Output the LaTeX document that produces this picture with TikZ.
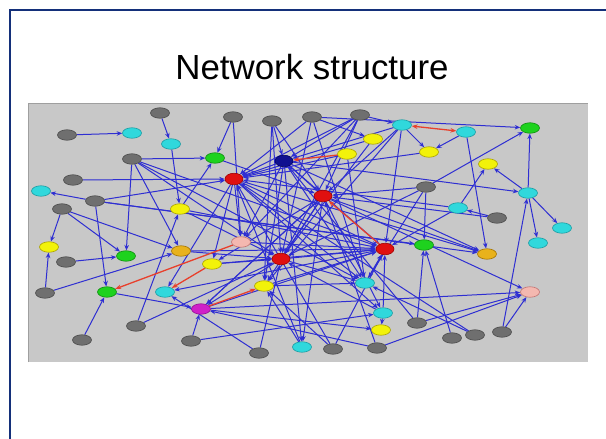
\documentclass[tikz,border=0pt]{standalone}
\usepackage{fontspec}
\setmainfont{Liberation Sans}
\usetikzlibrary{shapes.geometric,arrows.meta}
\definecolor{framecol}{HTML}{14307A}
\definecolor{panelcol}{HTML}{C8C8C8}
\definecolor{edgeblue}{HTML}{2E2ED2}
\definecolor{edgered}{HTML}{E8402C}
\definecolor{gfill}{HTML}{6F6F6F}\definecolor{gdraw}{HTML}{4A4A4A}
\definecolor{cfill}{HTML}{30D8DC}\definecolor{cdraw}{HTML}{1A9AA0}
\definecolor{yfill}{HTML}{F2F20A}\definecolor{ydraw}{HTML}{A8A000}
\definecolor{ofill}{HTML}{E8B21C}\definecolor{odraw}{HTML}{A07000}
\definecolor{grfill}{HTML}{1ED21E}\definecolor{grdraw}{HTML}{108A10}
\definecolor{rfill}{HTML}{E01010}\definecolor{rdraw}{HTML}{A00000}
\definecolor{bfill}{HTML}{101090}\definecolor{bdraw}{HTML}{000060}
\definecolor{mfill}{HTML}{D020C8}\definecolor{mdraw}{HTML}{901090}
\definecolor{pfill}{HTML}{F4B8B0}\definecolor{pdraw}{HTML}{C07070}
\pgfdeclarelayer{bglayer}
\pgfdeclarelayer{edgelayer}
\pgfsetlayers{bglayer,edgelayer,main}
\tikzset{
  nd/.style={ellipse,minimum width=19bp,minimum height=10.5bp,inner sep=0pt,line width=0.6bp},
  ng/.style={nd,fill=gfill,draw=gdraw},
  nc/.style={nd,fill=cfill,draw=cdraw},
  ny/.style={nd,fill=yfill,draw=ydraw},
  no/.style={nd,fill=ofill,draw=odraw},
  ngr/.style={nd,fill=grfill,draw=grdraw},
  nr/.style={nd,fill=rfill,draw=rdraw,minimum width=18bp,minimum height=11.5bp},
  nb/.style={nd,fill=bfill,draw=bdraw,minimum width=18bp,minimum height=11.5bp},
  nm/.style={nd,fill=mfill,draw=mdraw},
  np/.style={nd,fill=pfill,draw=pdraw},
  edgeb/.style={draw=edgeblue,line width=1bp,-{Stealth[length=5.5bp,width=4.5bp]}},
  edger/.style={draw=edgered,line width=1.3bp,-{Stealth[length=6bp,width=4.5bp]}},
  edgerr/.style={draw=edgered,line width=1.3bp,{Stealth[length=6bp,width=4.5bp]}-{Stealth[length=6bp,width=4.5bp]}},
  framestyle/.style={draw=framecol,line width=2bp},
}
\begin{document}
\begin{tikzpicture}[x=1bp,y=-1bp]
\useasboundingbox (0,0) rectangle (606,439);
\begin{pgfonlayer}{bglayer}
\fill[white] (0,0) rectangle (606,439);
\fill[panelcol] (28,104) rectangle (588,362);
\draw[gray!75,line width=1bp] (28,362) -- (28,104) -- (588,104);
\end{pgfonlayer}
\draw[framestyle] (10,439) -- (10,10) -- (606,10);
\node[font=\fontsize{35}{42}\selectfont,anchor=base] (title) at (312,80) {Network structure};
% gray nodes
\node[ng] (gA) at (67,135) {};
\node[ng] (gB) at (160,113) {};
\node[ng] (gC) at (132,159) {};
\node[ng] (gD) at (73,180) {};
\node[ng] (gE) at (95,201) {};
\node[ng] (gF) at (62,209) {};
\node[ng] (gG) at (66,262) {};
\node[ng] (gH) at (45,293) {};
\node[ng] (gI) at (82,340) {};
\node[ng] (gJ) at (136,326) {};
\node[ng] (gK) at (191,341) {};
\node[ng] (gL) at (233,117) {};
\node[ng] (gM) at (272,121) {};
\node[ng] (gN) at (312,117) {};
\node[ng] (gO) at (360,115) {};
\node[ng] (gP) at (426,187) {};
\node[ng] (gQ) at (497,218) {};
\node[ng] (gR) at (259,353) {};
\node[ng] (gS) at (333,349) {};
\node[ng] (gT) at (377,348) {};
\node[ng] (gU) at (417,323) {};
\node[ng] (gV) at (452,338) {};
\node[ng] (gW) at (475,335) {};
\node[ng] (gX) at (502,332) {};
% cyan nodes
\node[nc] (cA) at (132,133) {};
\node[nc] (cB) at (171,144) {};
\node[nc] (cC) at (41,191) {};
\node[nc] (cD) at (165,292) {};
\node[nc] (cE) at (402,125) {};
\node[nc] (cF) at (466,132) {};
\node[nc] (cG) at (528,193) {};
\node[nc] (cH) at (458,208) {};
\node[nc] (cI) at (562,228) {};
\node[nc] (cJ) at (538,243) {};
\node[nc] (cK) at (365,283) {};
\node[nc] (cL) at (383,313) {};
\node[nc] (cM) at (302,347) {};
% yellow nodes
\node[ny] (yA) at (180,209) {};
\node[ny] (yB) at (49,247) {};
\node[ny] (yC) at (212,264) {};
\node[ny] (yD) at (264,286) {};
\node[ny] (yE) at (373,139) {};
\node[ny] (yF) at (347,154) {};
\node[ny] (yG) at (429,152) {};
\node[ny] (yH) at (488,164) {};
\node[ny] (yI) at (381,330) {};
% orange
\node[no] (oA) at (181,251) {};
\node[no] (oB) at (487,254) {};
% green
\node[ngr] (grA) at (215,158) {};
\node[ngr] (grB) at (126,256) {};
\node[ngr] (grC) at (107,292) {};
\node[ngr] (grD) at (530,128) {};
\node[ngr] (grE) at (424,245) {};
% red, blue, magenta, pink
\node[nr] (rA) at (234,179) {};
\node[nr] (rB) at (323,196) {};
\node[nr] (rC) at (385,249) {};
\node[nr] (rD) at (281,259) {};
\node[nb] (bA) at (284,161) {};
\node[nm] (mA) at (201,309) {};
\node[np] (pA) at (241,242) {};
\node[np] (pB) at (530,292) {};
\begin{pgfonlayer}{edgelayer}
\foreach \s/\t in {gA/cA,gB/cB,cB/yA,gC/grA,gC/grB,gC/oA,gC/rC,gC/cK,gD/rA,gE/cC,
  gE/grC,gE/grE,gE/oB,gF/yB,gF/grB,gF/oA,gG/grB,gH/yB,gH/oA,gI/grC,grC/mA,gJ/yA,
  gK/cL,gL/grA,gM/bA,gM/rB,gN/yE,gN/rA,gN/rD,gN/grD,gO/bA,gO/rA,gO/rD,gO/cE,
  cE/yG,cF/yG,gP/grD,gP/rB,gP/grE,cG/grD,cG/yH,cG/cI,cG/cJ,cH/yH,gQ/cH,gX/cG,
  gX/pB,gU/grE,gV/grE,gU/pB,gU/bA,gW/cK,gT/pB,mA/pB,rB/pB,rA/oB,bA/oB,rB/oB,
  cF/oB,bA/cG,cE/rB,cE/rC,yE/rA,rA/pA,rA/rC,rA/cD,rA/yC,bA/rA,bA/rB,bA/rC,bA/yD,
  bA/cK,rB/rD,rB/cM,rB/yC,rB/mA,rD/rC,rD/mA,yC/rC,pA/rC,mA/rC,yD/rC,cK/rC,cL/rC,
  cL/yI,mA/yI,gS/rC,gR/rD,cM/yD,gT/mA,gK/mA,gJ/rD,oA/rC,yA/rD,yA/grA,cH/rC,
  gQ/rB,yG/rA,gP/cK,rC/cD,gR/cD,mA/rB,gS/yD,gW/rA,
  gL/pA,gM/rD,gM/yD,gN/cK,gO/rB,gO/pA,yE/rD,yF/rA,yF/cK,cE/bA,cE/yD,rA/cK,rA/cL,
  rB/cL,rB/yD,bA/pA,bA/cM,yD/cK,rD/cK,oA/rD,yA/rC,yC/rD,grA/rB,gE/rA,gC/rD,
  cH/rA,gP/rD,cL/rD,gT/rB,cM/rA,gS/rA}
  \draw[edgeb] (\s) -- (\t);
\draw[edgerr] (cE) -- (cF);
\draw[edger] (yF) -- (bA);
\draw[edger] (rC) -- (rB);
\draw[edger] (pA) -- (grC);
\draw[edger] (yC) -- (cD);
\draw[edger] (mA) -- (yD);
\end{pgfonlayer}
\end{tikzpicture}
\end{document}
